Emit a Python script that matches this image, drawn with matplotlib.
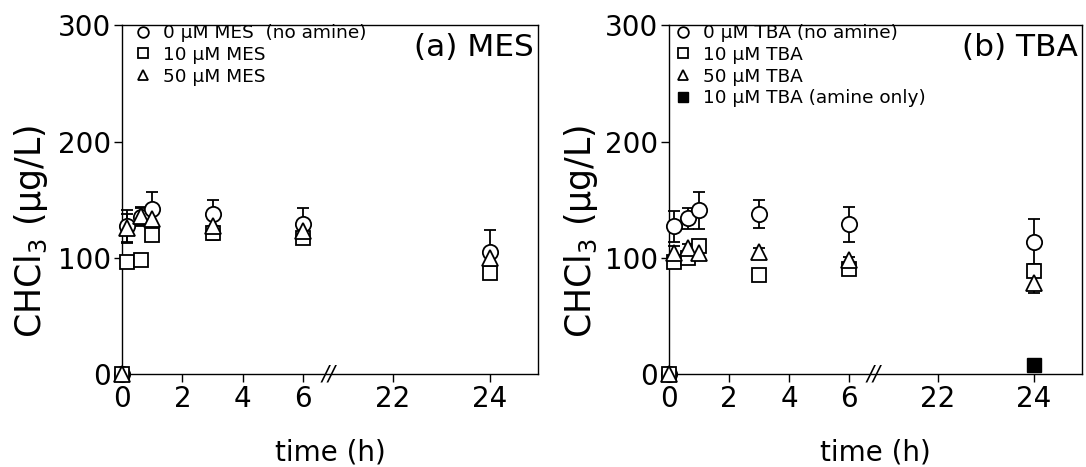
import numpy as np
import matplotlib
matplotlib.use("Agg")
import matplotlib.pyplot as plt

plt.rcParams["font.family"] = ["DejaVu Sans"]
plt.rcParams["mathtext.fontset"] = "custom"
plt.rcParams["mathtext.rm"] = "DejaVu Sans"
plt.rcParams["mathtext.default"] = "regular"

# sampling times (h)
time_h = [0, 0.17, 0.63, 1, 3, 6, 24]

# (a) MES
mes_0 = [0, 127, 135, 142, 138, 129, 105]
mes_0_err = [0, 14, 8, 15, 12, 14, 19]
mes_10 = [0, 96, 98, 120, 121, 117, 87]
mes_10_err = [0, 3, 3, 4, 6, 3, 2]
mes_50 = [0, 126, 136, 133, 127, 123, 100]
mes_50_err = [0, 12, 8, 8, 6, 4, 6]

# (b) TBA
tba_0 = [0, 127, 134, 141, 138, 129, 114]
tba_0_err = [0, 13, 9, 16, 12, 15, 19]
tba_10 = [0, 96, 100, 110, 85, 90, 89]
tba_10_err = [0, 3, 3, 3, 3, 3, 3]
tba_50 = [0, 104, 108, 104, 105, 98, 78]
tba_50_err = [0, 6, 4, 3, 3, 3, 8]
tba_only_t = [24]
tba_only = [8]

# broken time axis: 0-6.83 h, then 20.68-25 h stretched
B1, B2, SLOPE, EPS = 6.83, 20.68, 1.6, 0.001


def fwd(t):
    t = np.asarray(t, dtype=float)
    mid = B1 + (t - B1) * EPS
    hi = B1 + (B2 - B1) * EPS + (t - B2) * SLOPE
    return np.where(t <= B1, t, np.where(t <= B2, mid, hi))


def inv(u):
    u = np.asarray(u, dtype=float)
    u1 = B1 + (B2 - B1) * EPS
    return np.where(u <= B1, u, np.where(u <= u1, B1 + (u - B1) / EPS,
                                         B2 + (u - u1) / SLOPE))


def draw_panel(ax, series, tag, ylab_x):
    for y, err, mk, ms, lab in series:
        ax.errorbar(time_h, y, yerr=err, fmt="none", ecolor="black",
                    elinewidth=1.3, capsize=4, capthick=1.3, clip_on=False, zorder=2)
        ax.plot(time_h, y, linestyle="none", marker=mk, markersize=ms,
                markerfacecolor="white", markeredgecolor="black",
                markeredgewidth=1.3, clip_on=False, zorder=3, label=lab)
    ax.set_xscale("function", functions=(fwd, inv))
    ax.set_xlim(0, 25)
    ax.set_ylim(0, 300)
    ax.set_xticks([0, 2, 4, 6, 22, 24])
    ax.set_yticks([0, 100, 200, 300])
    ax.tick_params(direction="out", length=6, width=1, labelsize=20, pad=2)
    ax.minorticks_off()
    for s in ax.spines.values():
        s.set_linewidth(1)
    ax.set_xlabel("time (h)", fontsize=20, labelpad=18)
    ax.set_ylabel("CHCl$_3$ (µg/L)", fontsize=25)
    ax.yaxis.set_label_coords(ylab_x, 0.41)
    ax.text(0.99, 0.978, tag, transform=ax.transAxes, ha="right", va="top",
            fontsize=22.5)
    ax.text(6.95, 0.0, "//", transform=ax.get_xaxis_transform(),
            ha="center", va="center", fontsize=15, fontstyle="italic")


fig = plt.figure(figsize=(10.86, 4.67), dpi=100)
ax1 = fig.add_axes([0.1123, 0.199, 0.383, 0.747])
ax2 = fig.add_axes([0.616, 0.199, 0.380, 0.747])

draw_panel(ax1, [
    (mes_0, mes_0_err, "o", 11, "0 µM MES  (no amine)"),
    (mes_10, mes_10_err, "s", 9.5, "10 µM MES"),
    (mes_50, mes_50_err, "^", 11, "50 µM MES"),
], "(a) MES", -0.173)

draw_panel(ax2, [
    (tba_0, tba_0_err, "o", 11, "0 µM TBA (no amine)"),
    (tba_10, tba_10_err, "s", 9.5, "10 µM TBA"),
    (tba_50, tba_50_err, "^", 11, "50 µM TBA"),
], "(b) TBA", -0.167)
ax2.plot(tba_only_t, tba_only, linestyle="none", marker="s", markersize=9.5,
         color="black", clip_on=False, zorder=4, label="10 µM TBA (amine only)")

for ax, x0 in ((ax1, 0.014), (ax2, -0.003)):
    ax.legend(loc="upper left", bbox_to_anchor=(x0, 1.003), frameon=False,
              fontsize=13.3, markerscale=0.7, handlelength=1.6,
              handletextpad=0.3, labelspacing=0.2, borderaxespad=0,
              borderpad=0)

fig.savefig("out.png", dpi=100)
